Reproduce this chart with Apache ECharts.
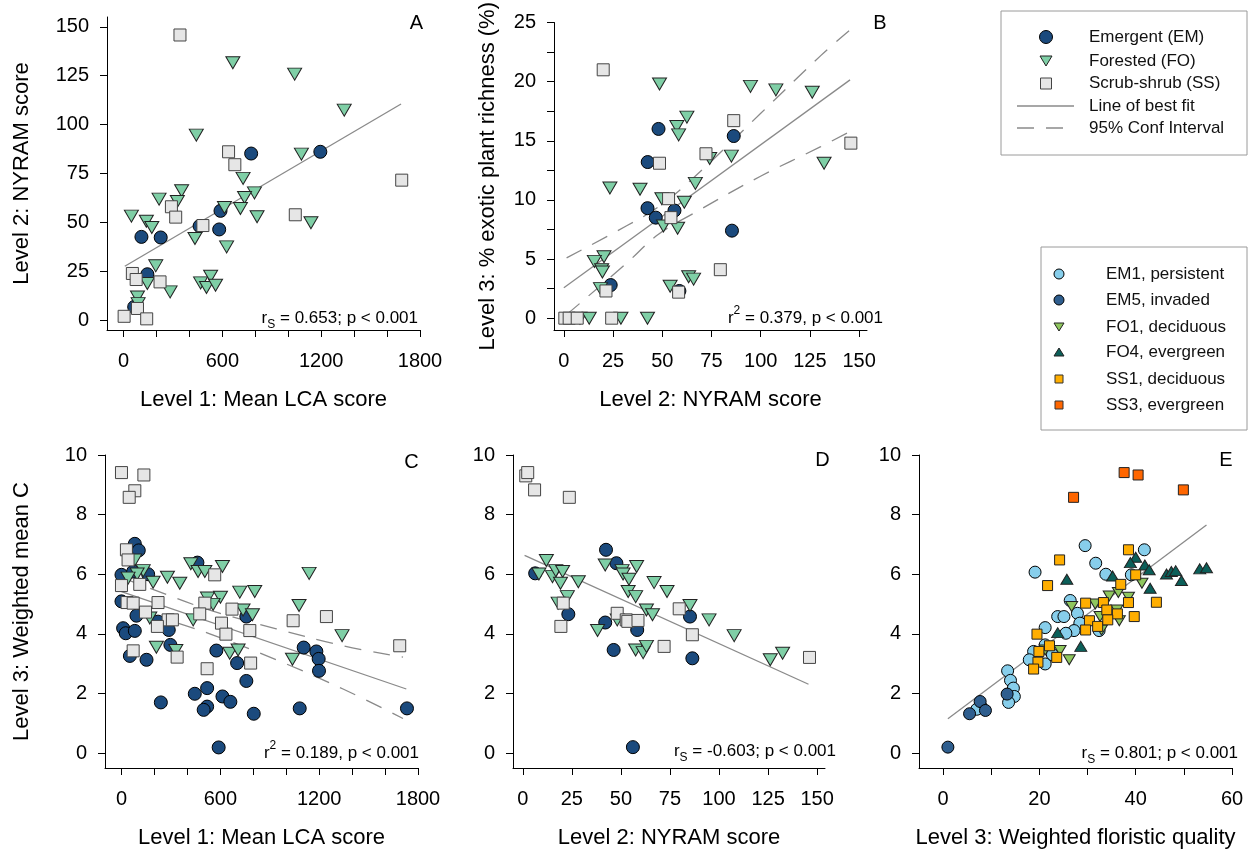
<!DOCTYPE html>
<html>
<head>
<meta charset="utf-8">
<script src="https://cdn.jsdelivr.net/npm/echarts@6/dist/echarts.min.js"></script>
<style>
  html, body { margin: 0; padding: 0; background: #fff; }
  #chart { width: 1250px; height: 850px; }
</style>
</head>
<body>
<div id="chart"></div>
<script>
// ---- panel A: Mean LCA score vs NYRAM score ----
const aEM = [[775,85.2],[1195,86.1],[589,55.9],[462,48.1],[581,46.4],[109,42.6],[226,42.3],[145,23.5],[65,6.8]];
const aFO = [[664,131.6],[1039,125.8],[1340,107.4],[442,94.6],[1080,84.9],[726,72.5],[353,66.2],[795,65.1],
  [216,61.9],[327,60.7],[735,62.7],[613,57.6],[710,57.1],[48,53.2],[139,50.6],[172,47.4],[811,52.9],[1138,49.8],
  [434,41.8],[626,37.5],[196,27.8],[145,18.8],[283,14.5],[468,19.1],[529,22.5],[504,16.7],[559,17.9],[85,11.9],[89,8.5]];
const aSS = [[343,145.8],[638,86.1],[676,79.5],[1689,71.6],[291,58.0],[317,52.7],[482,48.4],[1043,53.9],
  [54,23.9],[77,20.8],[222,19.6],[85,6.0],[4,2.0],[141,0.7]];
const aFit = [[8,27.6],[1685,110.5]];

// ---- panel B: NYRAM score vs % exotic richness ----
const bEM = [[48.1,16.0],[86.3,15.4],[42.6,13.2],[42.5,9.3],[56.2,9.1],[46.7,8.5],[85.4,7.4],[23.8,2.8],[58.7,2.3]];
const bFO = [[48.6,19.8],[94.8,19.6],[107.7,19.3],[126.2,19.1],[62.5,17.0],[57.4,16.2],[58.3,15.5],[74.1,13.5],
  [85.1,13.7],[132.2,13.1],[23.4,11.0],[38.7,10.9],[66.8,11.4],[49.8,10.1],[61.2,9.8],[50.6,7.8],[57.8,7.6],
  [20.4,5.2],[15.5,4.8],[19.2,4.1],[19.6,3.9],[63.4,3.5],[65.9,3.3],[54.0,2.7],[18.6,2.5],
  [8.2,0],[12.9,0],[29.0,0],[42.5,0]];
const bSS = [[20.0,21.0],[86.3,16.7],[145.8,14.8],[72.2,13.9],[48.6,13.1],[53.2,10.1],[54.4,8.5],[79.5,4.1],
  [21.4,2.3],[58.3,2.2],[0.5,0],[2.7,0],[6.8,0],[24.3,0]];
const bFit = [[0,2.57],[145.4,20.15]];
const bCIUpper = [[1.4,5.10],[31.9,7.81],[47.9,9.39],[65.9,11.87],[99.9,17.3],[130.5,22.2],[144.9,24.3]];
const bCILower = [[1.4,0.30],[31.9,4.66],[47.9,7.07],[65.9,8.86],[99.9,12.0],[130.5,14.5],[144.9,15.74]];

// ---- panel C: Mean LCA score vs weighted mean C ----
const cEM = [[81,7.02],[105,6.8],[461,6.39],[0,5.98],[71,6.09],[162,6.0],[0,5.09],[91,4.61],[758,4.58],[222,4.41],
  [10,4.19],[26,4.02],[81,4.1],[287,4.13],[297,3.63],[51,3.26],[152,3.13],[576,3.44],[702,3.02],[1106,3.54],
  [1183,3.41],[1197,3.16],[1199,2.76],[758,2.42],[445,1.99],[520,2.18],[239,1.70],[520,1.56],[499,1.45],
  [613,1.90],[661,1.72],[803,1.32],[1082,1.50],[1733,1.50],[590,0.19]];
const cFO = [[421,6.35],[613,6.26],[465,6.09],[506,6.09],[1139,6.03],[81,6.48],[132,6.12],[95,6.01],[40,5.87],
  [192,5.73],[279,5.90],[354,5.70],[718,5.40],[809,5.42],[522,5.20],[601,5.23],[556,4.99],[738,4.80],[795,4.64],
  [1078,4.95],[172,4.53],[435,4.47],[1339,3.94],[212,3.55],[330,3.44],[657,3.35],[708,3.46],[1038,3.15]];
const cSS = [[0,9.41],[136,9.33],[81,8.8],[47,8.58],[30,6.82],[40,6.48],[566,5.98],[0,5.62],[111,5.66],[34,5.05],
  [71,5.03],[222,5.05],[146,4.73],[506,5.03],[671,4.83],[475,4.67],[283,4.47],[309,4.47],[218,4.25],[607,4.36],
  [634,3.99],[779,4.11],[1042,4.44],[1244,4.58],[1689,3.60],[71,3.43],[338,3.22],[784,3.02],[520,2.83]];
const cFit = [[0,5.42],[1729,2.15]];
const cCIUpper = [[10,5.87],[172,5.53],[536,4.80],[940,4.17],[1345,3.60],[1709,3.22]];
const cCILower = [[10,4.93],[172,4.66],[536,4.00],[940,3.13],[1345,2.15],[1709,1.16]];

// ---- panel D: NYRAM score vs weighted mean C ----
const dEM = [[6.3,6.03],[23.2,4.66],[42.4,6.82],[47.7,6.37],[42.0,4.38],[46.3,3.46],[58.3,4.13],[56.1,0.2],
  [85.2,4.58],[86.4,3.18]];
const dFO = [[12.0,6.46],[8.2,6.01],[15.1,5.92],[16.8,6.12],[20.3,6.09],[19.2,5.70],[28.3,5.75],[22.7,5.25],
  [18.0,5.03],[38.1,4.11],[42.0,6.31],[50.6,6.12],[51.1,6.01],[54.1,5.83],[58.0,6.26],[53.7,5.42],[57.5,5.25],
  [48.1,4.47],[66.9,5.72],[73.5,5.42],[63.0,4.80],[66.1,4.64],[57.5,3.46],[61.3,3.37],[63.0,3.58],[85.2,4.95],
  [94.9,4.47],[107.7,3.94],[126.1,3.13],[132.4,3.35]];
const dSS = [[1.5,9.3],[2.5,9.41],[6.0,8.83],[23.7,8.58],[20.6,5.03],[19.4,4.25],[48.1,4.69],[52.7,4.47],
  [53.5,4.42],[58.7,4.45],[72.0,3.58],[79.7,4.84],[86.4,3.97],[146.1,3.21]];
const dFit = [[0.9,6.63],[145.6,2.31]];

// ---- panel E: weighted floristic quality vs weighted mean C ----
const eEM1 = [[29.5,6.96],[41.8,6.82],[31.7,6.37],[19.1,6.07],[33.8,6.0],[39.1,5.98],[26.4,5.12],[23.8,4.58],
  [25.1,4.58],[27.9,4.69],[28.4,4.36],[27.2,4.11],[21.2,4.21],[25.5,4.02],[32.4,4.11],[21.2,3.63],[22.7,3.30],
  [18.8,3.41],[17.9,3.13],[21.2,2.99],[13.4,2.76],[14.0,2.44],[14.6,2.18],[14.8,1.90],[13.6,1.70],[7.9,1.56],[7.0,1.47]];
const eEM5 = [[7.7,1.73],[8.8,1.43],[5.5,1.32],[13.3,1.98],[1.0,0.2]];
const eFO1 = [[26.7,4.92],[31.6,5.0],[34.5,5.27],[36.4,5.39],[38.5,5.23],[41.3,5.70],[32.6,4.58],[36.1,4.80],
  [36.6,4.44],[32.9,4.13],[24.3,3.44],[26.2,3.13],[21.2,3.46]];
const eFO4 = [[40.0,6.57],[38.9,6.39],[41.9,6.31],[42.8,6.15],[35.2,5.94],[25.7,5.83],[43.0,5.53],[46.4,6.01],
  [47.4,6.09],[48.3,6.12],[49.5,5.79],[53.3,6.18],[54.7,6.22],[23.8,4.04],[28.6,3.58]];
const eSS1 = [[38.5,6.82],[24.2,6.48],[40.0,5.98],[21.7,5.62],[36.9,5.66],[44.3,5.06],[29.6,5.03],[33.3,5.05],
  [38.5,5.05],[34.0,4.80],[36.2,4.67],[39.7,4.58],[30.4,4.44],[32.1,4.25],[34.2,4.47],[29.6,4.13],[19.5,3.99],
  [22.1,3.60],[19.9,3.41],[23.6,3.21],[19.7,3.05],[18.8,2.82]];
const eSS3 = [[37.6,9.41],[40.5,9.33],[49.9,8.83],[27.1,8.58]];
const eFit = [[1.0,1.15],[54.7,7.65]];

// ---- ticks and labels ----
const lcaTicks = [0, 200, 400, 600, 800, 1000, 1200, 1400, 1600, 1800];
const lcaLabels = [0, 600, 1200, 1800];
const nyramTicks = [0, 25, 50, 75, 100, 125, 150];
const exoticTicks = [0, 2.5, 5, 7.5, 10, 12.5, 15, 17.5, 20, 22.5, 25];
const exoticLabels = [0, 5, 10, 15, 20, 25];
const meanCTicks = [0, 2, 4, 6, 8, 10];
const fqTicks = [0, 10, 20, 30, 40, 50, 60];
const fqLabels = [0, 20, 40, 60];

const FONT = "'Liberation Sans', Arial, sans-serif";
const COL = {
  EM: "#1b4a7d", FO: "#7fcfa6", SS: "#e6e6e6",
  EM1: "#87ceeb", EM5: "#2f5e8e", FO1: "#8fc75e", FO4: "#0b5f59", SS1: "#ffae00", SS3: "#ff6600",
  fit: "#8a8a8a"
};

function axis(grid, min, max, ticks, labels, name, nameGap, isY) {
  return {
    type: "value", gridIndex: grid, min: min, max: max,
    name: name, nameLocation: "middle", nameGap: nameGap,
    nameTextStyle: { fontSize: 22, color: "#000", fontFamily: FONT },
    axisLine: { show: true, onZero: false, lineStyle: { color: "#000", width: 1 } },
    axisTick: { show: true, inside: false, length: 7, customValues: ticks, lineStyle: { color: "#000" } },
    axisLabel: { customValues: labels, fontSize: 20, color: "#000", fontFamily: FONT,
      margin: isY ? 18 : 21, formatter: (v) => String(v) },
    splitLine: { show: false }, minorTick: { show: false }
  };
}

function pts(name, data, x, symbol, size, color, border, rotate) {
  return {
    type: "scatter", name: name, xAxisIndex: x, yAxisIndex: x, data: data,
    symbol: symbol, symbolSize: size, symbolRotate: rotate || 0,
    itemStyle: { color: color, borderColor: border, borderWidth: 1, opacity: 1 },
    emphasis: { disabled: true }, silent: true, z: 3
  };
}

function line(data, x, dashed) {
  return {
    type: "line", xAxisIndex: x, yAxisIndex: x, data: data, symbol: "none", smooth: dashed ? 0.4 : false,
    lineStyle: { color: COL.fit, width: 1.3, type: dashed ? [17, 12] : "solid" },
    silent: true, z: 2
  };
}

function panelSeries(idx, em, fo, ss) {
  return [
    pts("EM", em, idx, "circle", 13, COL.EM, "#000"),
    pts("FO", fo, idx, "triangle", [14, 12], COL.FO, "#222", 180),
    pts("SS", ss, idx, "rect", 12, COL.SS, "#444")
  ];
}

function statText(x, y, parts) {
  return {
    type: "text", x: x, y: y, silent: true,
    style: {
      text: parts, textAlign: "right", align: "right", textVerticalAlign: "middle", verticalAlign: "middle",
      fill: "#000", fontFamily: FONT,
      rich: {
        m: { fontSize: 17, fontFamily: FONT, lineHeight: 26, verticalAlign: "middle", fill: "#000" },
        sub: { fontSize: 12, fontFamily: FONT, lineHeight: 12, verticalAlign: "bottom", fill: "#000" },
        sup: { fontSize: 12, fontFamily: FONT, lineHeight: 12, verticalAlign: "top", fill: "#000" }
      }
    }
  };
}

function letter(x, y, t) {
  return { type: "text", x: x, y: y, silent: true,
    style: { text: t, fontSize: 20, fontFamily: FONT, fill: "#000",
      textAlign: "center", align: "center", textVerticalAlign: "middle", verticalAlign: "middle" } };
}

function legendText(x, y, t) {
  return { type: "text", x: x, y: y, silent: true,
    style: { text: t, fontSize: 17, fontFamily: FONT, fill: "#111",
      textAlign: "left", align: "left", textVerticalAlign: "middle", verticalAlign: "middle" } };
}

const legend1 = [
  { type: "rect", shape: { x: 1001, y: 11, width: 246, height: 144 }, style: { fill: "#fff", stroke: "#9a9a9a", lineWidth: 1 } },
  { type: "circle", shape: { cx: 1046, cy: 37, r: 6.5 }, style: { fill: COL.EM, stroke: "#000", lineWidth: 1 } },
  { type: "polygon", shape: { points: [[1040, 56], [1052, 56], [1046, 66]] }, style: { fill: COL.FO, stroke: "#222", lineWidth: 1 } },
  { type: "rect", shape: { x: 1040.5, y: 78, width: 11, height: 11 }, style: { fill: COL.SS, stroke: "#444", lineWidth: 1 } },
  { type: "line", shape: { x1: 1017, y1: 106, x2: 1074, y2: 106 }, style: { stroke: COL.fit, lineWidth: 1.3 } },
  { type: "line", shape: { x1: 1017, y1: 128, x2: 1074, y2: 128 }, style: { stroke: COL.fit, lineWidth: 1.3, lineDash: [17, 12] } },
  legendText(1089, 37, "Emergent (EM)"),
  legendText(1089, 61, "Forested (FO)"),
  legendText(1089, 83, "Scrub-shrub (SS)"),
  legendText(1089, 106, "Line of best fit"),
  legendText(1089, 128, "95% Conf Interval")
];

const legend2 = [
  { type: "rect", shape: { x: 1041, y: 247, width: 206, height: 183 }, style: { fill: "#fff", stroke: "#9a9a9a", lineWidth: 1 } },
  { type: "circle", shape: { cx: 1059, cy: 274, r: 5 }, style: { fill: COL.EM1, stroke: "#000", lineWidth: 1 } },
  { type: "circle", shape: { cx: 1059, cy: 300, r: 5 }, style: { fill: COL.EM5, stroke: "#000", lineWidth: 1 } },
  { type: "polygon", shape: { points: [[1054, 323], [1064, 323], [1059, 331]] }, style: { fill: COL.FO1, stroke: "#222", lineWidth: 1 } },
  { type: "polygon", shape: { points: [[1054, 356], [1064, 356], [1059, 348]] }, style: { fill: COL.FO4, stroke: "#222", lineWidth: 1 } },
  { type: "rect", shape: { x: 1055, y: 375, width: 8, height: 8 }, style: { fill: COL.SS1, stroke: "#333", lineWidth: 1 } },
  { type: "rect", shape: { x: 1055, y: 401, width: 8, height: 8 }, style: { fill: COL.SS3, stroke: "#333", lineWidth: 1 } },
  legendText(1106, 274, "EM1, persistent"),
  legendText(1106, 300, "EM5, invaded"),
  legendText(1106, 327, "FO1, deciduous"),
  legendText(1106, 352, "FO4, evergreen"),
  legendText(1106, 379, "SS1, deciduous"),
  legendText(1106, 405, "SS3, evergreen")
];

const option = {
  animation: false,
  backgroundColor: "#fff",
  textStyle: { fontFamily: FONT },
  grid: [
    { left: 107, top: 17, width: 313, height: 313 },
    { left: 554, top: 17, width: 313, height: 313 },
    { left: 105, top: 455, width: 313, height: 313 },
    { left: 513, top: 455, width: 312, height: 313 },
    { left: 919, top: 455, width: 313, height: 313 }
  ],
  xAxis: [
    axis(0, -100, 1800, lcaTicks, lcaLabels, "Level 1: Mean LCA score", 59),
    axis(1, -5, 154, nyramTicks, nyramTicks, "Level 2: NYRAM score", 59),
    axis(2, -100, 1800, lcaTicks, lcaLabels, "Level 1: Mean LCA score", 59),
    axis(3, -5, 154, nyramTicks, nyramTicks, "Level 2: NYRAM score", 59),
    axis(4, -5, 60, fqTicks, fqLabels, "Level 3: Weighted floristic quality", 59)
  ],
  yAxis: [
    axis(0, -5, 155, nyramTicks, nyramTicks, "Level 2: NYRAM score", 74, true),
    axis(1, -1, 25, exoticTicks, exoticLabels, "Level 3: % exotic plant richness (%)", 55, true),
    axis(2, -0.5, 10, meanCTicks, meanCTicks, "Level 3: Weighted mean C", 72, true),
    axis(3, -0.5, 10, meanCTicks, meanCTicks, "", 50, true),
    axis(4, -0.5, 10, meanCTicks, meanCTicks, "", 50, true)
  ],
  series: [
    line(aFit, 0),
    ...panelSeries(0, aEM, aFO, aSS),
    line(bFit, 1), line(bCIUpper, 1, true), line(bCILower, 1, true),
    ...panelSeries(1, bEM, bFO, bSS),
    line(cFit, 2), line(cCIUpper, 2, true), line(cCILower, 2, true),
    ...panelSeries(2, cEM, cFO, cSS),
    line(dFit, 3),
    ...panelSeries(3, dEM, dFO, dSS),
    line(eFit, 4),
    pts("EM1", eEM1, 4, "circle", 12, COL.EM1, "#000"),
    pts("EM5", eEM5, 4, "circle", 12, COL.EM5, "#000"),
    pts("FO1", eFO1, 4, "triangle", [12, 10], COL.FO1, "#222", 180),
    pts("FO4", eFO4, 4, "triangle", [12, 10], COL.FO4, "#222"),
    pts("SS1", eSS1, 4, "rect", 10, COL.SS1, "#222"),
    pts("SS3", eSS3, 4, "rect", 10, COL.SS3, "#222")
  ],
  graphic: [
    letter(416.5, 23, "A"), letter(880, 23, "B"), letter(411.5, 462, "C"),
    letter(822.5, 460, "D"), letter(1226, 460, "E"),
    statText(418, 318, "{m|r}{sub|S}{m| = 0.653; p < 0.001}"),
    statText(883, 318, "{m|r}{sup|2}{m| = 0.379, p < 0.001}"),
    statText(419, 753, "{m|r}{sup|2}{m| = 0.189, p < 0.001}"),
    statText(836, 751, "{m|r}{sub|S}{m| = -0.603; p < 0.001}"),
    statText(1238, 753, "{m|r}{sub|S}{m| = 0.801; p < 0.001}"),
    ...legend1,
    ...legend2
  ]
};

const chart = echarts.init(document.getElementById("chart"));
chart.setOption(option, true);
</script>
</body>
</html>
